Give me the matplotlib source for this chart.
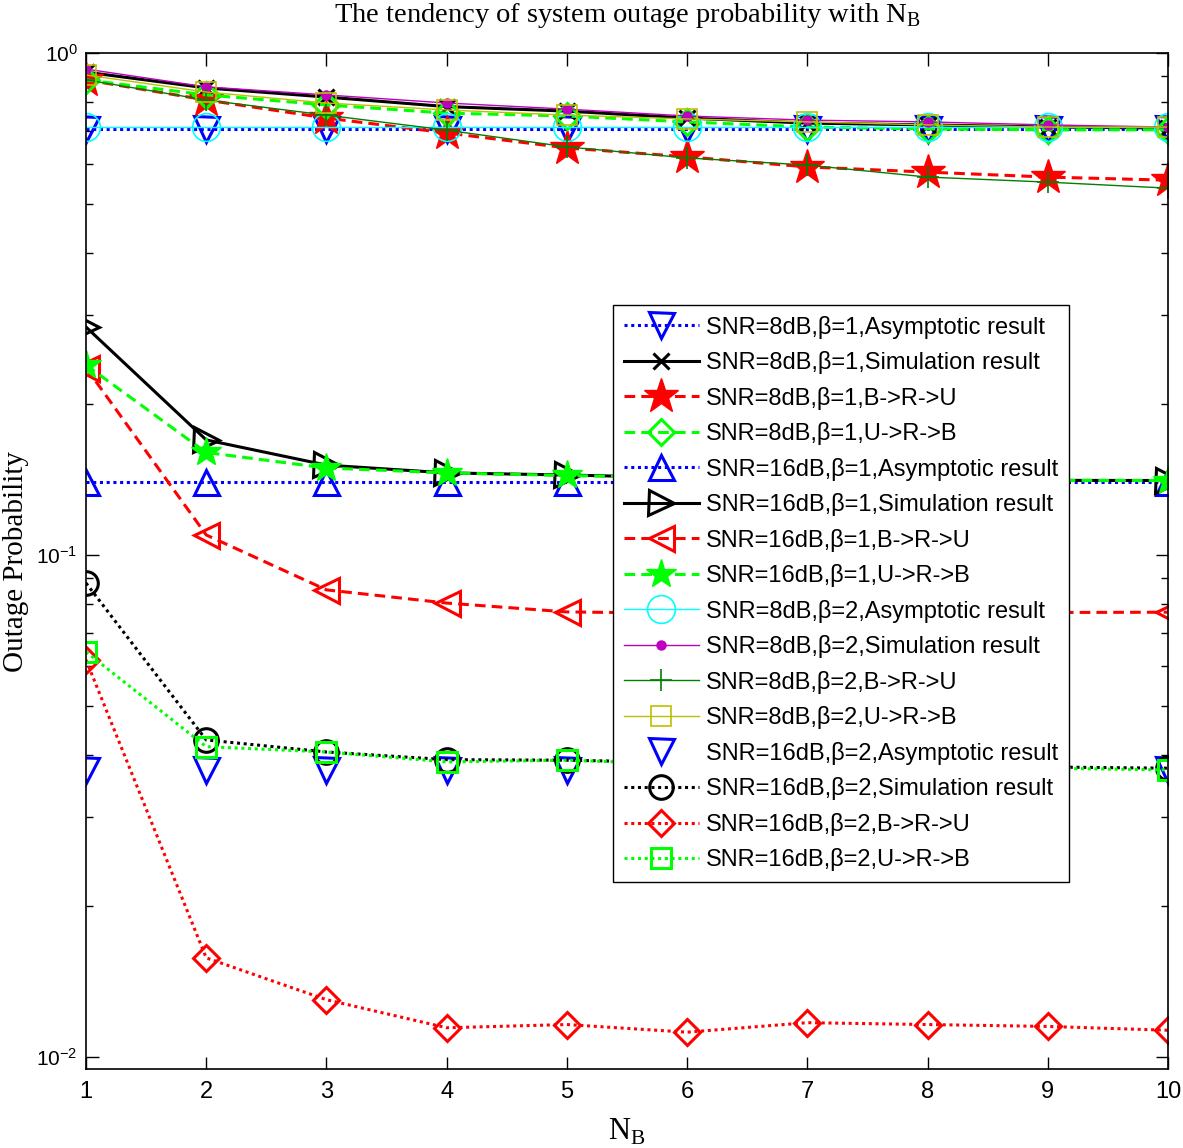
import numpy as np
import matplotlib
matplotlib.use("Agg")
import matplotlib.pyplot as plt

plt.rcParams['font.family'] = ['Liberation Sans', 'DejaVu Sans']
plt.rcParams['mathtext.fontset'] = 'custom'
plt.rcParams['mathtext.rm'] = 'Liberation Sans'
plt.rcParams['mathtext.it'] = 'Liberation Sans'

NB = [1, 2, 3, 4, 5, 6, 7, 8, 9, 10]

labels = [
    "SNR=8dB,\u03b2=1,Asymptotic result",
    "SNR=8dB,\u03b2=1,Simulation result",
    "SNR=8dB,\u03b2=1,B->R->U",
    "SNR=8dB,\u03b2=1,U->R->B",
    "SNR=16dB,\u03b2=1,Asymptotic result",
    "SNR=16dB,\u03b2=1,Simulation result",
    "SNR=16dB,\u03b2=1,B->R->U",
    "SNR=16dB,\u03b2=1,U->R->B",
    "SNR=8dB,\u03b2=2,Asymptotic result",
    "SNR=8dB,\u03b2=2,Simulation result",
    "SNR=8dB,\u03b2=2,B->R->U",
    "SNR=8dB,\u03b2=2,U->R->B",
    "SNR=16dB,\u03b2=2,Asymptotic result",
    "SNR=16dB,\u03b2=2,Simulation result",
    "SNR=16dB,\u03b2=2,B->R->U",
    "SNR=16dB,\u03b2=2,U->R->B",
]

snr8_b1_asym = [0.706, 0.706, 0.706, 0.706, 0.706, 0.706, 0.706, 0.706, 0.706, 0.706]
snr8_b1_sim  = [0.916, 0.852, 0.817, 0.782, 0.766, 0.742, 0.725, 0.719, 0.712, 0.709]
snr8_b1_bru  = [0.884, 0.806, 0.742, 0.693, 0.647, 0.621, 0.593, 0.579, 0.566, 0.558]
snr8_b1_urb  = [0.884, 0.825, 0.788, 0.759, 0.749, 0.729, 0.712, 0.706, 0.703, 0.703]
snr16_b1_asym = [0.1398] * 10
snr16_b1_sim  = [0.2845, 0.1695, 0.151, 0.1457, 0.1443, 0.1425, 0.1415, 0.141, 0.1408, 0.1407]
snr16_b1_bru  = [0.236, 0.1096, 0.0852, 0.0802, 0.0770, 0.0765, 0.0768, 0.0766, 0.0768, 0.0769]
snr16_b1_urb  = [0.239, 0.160, 0.149, 0.1457, 0.1440, 0.1425, 0.1415, 0.141, 0.1408, 0.1407]
snr8_b2_asym = [0.712] * 10
snr8_b2_sim  = [0.929, 0.856, 0.825, 0.795, 0.773, 0.749, 0.735, 0.729, 0.719, 0.712]
snr8_b2_bru  = [0.884, 0.806, 0.752, 0.702, 0.650, 0.618, 0.598, 0.566, 0.553, 0.538]
snr8_b2_urb  = [0.904, 0.836, 0.795, 0.770, 0.752, 0.739, 0.729, 0.719, 0.712, 0.712]
snr16_b2_asym = [0.0373] * 10
snr16_b2_sim  = [0.0879, 0.0428, 0.0405, 0.0391, 0.0390, 0.0386, 0.0383, 0.0380, 0.0378, 0.0376]
snr16_b2_bru  = [0.0618, 0.01575, 0.0130, 0.01143, 0.0116, 0.0112, 0.0117, 0.0116, 0.0115, 0.0113]
snr16_b2_urb  = [0.0641, 0.0415, 0.0405, 0.0387, 0.0390, 0.0383, 0.0380, 0.0378, 0.0376, 0.0373]

series = [snr8_b1_asym, snr8_b1_sim, snr8_b1_bru, snr8_b1_urb,
          snr16_b1_asym, snr16_b1_sim, snr16_b1_bru, snr16_b1_urb,
          snr8_b2_asym, snr8_b2_sim, snr8_b2_bru, snr8_b2_urb,
          snr16_b2_asym, snr16_b2_sim, snr16_b2_bru, snr16_b2_urb]

DOT = (0, (1.0, 1.2))
DASH = (0, (3.5, 2.0))
styles = [
    dict(color='#0000ff', ls=DOT, lw=2.2, marker='v', ms=18, mfc='none', mew=2.2),
    dict(color='#000000', ls='-', lw=2.2, marker='x', ms=11, mew=2.2),
    dict(color='#ff0000', ls=DASH, lw=2.2, marker='*', ms=26, mfc='#ff0000', mew=1),
    dict(color='#00ff00', ls=DASH, lw=2.2, marker='D', ms=13, mfc='none', mew=2.2),
    dict(color='#0000ff', ls=DOT, lw=2.2, marker='^', ms=18, mfc='none', mew=2.2),
    dict(color='#000000', ls='-', lw=2.2, marker='>', ms=18, mfc='none', mew=2.2),
    dict(color='#ff0000', ls=DASH, lw=2.2, marker='<', ms=18, mfc='none', mew=2.2),
    dict(color='#00ff00', ls=DASH, lw=2.2, marker='*', ms=22, mfc='#00ff00', mew=1),
    dict(color='#00ffff', ls='-', lw=1.0, marker='o', ms=20, mfc='none', mew=1.2),
    dict(color='#bf00bf', ls='-', lw=1.0, marker='.', ms=13),
    dict(color='#008000', ls='-', lw=1.0, marker='+', ms=16, mew=1.2),
    dict(color='#bfbf00', ls='-', lw=1.0, marker='s', ms=14, mfc='none', mew=1.2),
    dict(color='#0000ff', ls='none', lw=2.2, marker='v', ms=18, mfc='none', mew=2.2),
    dict(color='#000000', ls=DOT, lw=2.2, marker='o', ms=17, mfc='none', mew=2.2),
    dict(color='#ff0000', ls=DOT, lw=2.2, marker='D', ms=13, mfc='none', mew=2.2),
    dict(color='#00ff00', ls=DOT, lw=2.2, marker='s', ms=15, mfc='none', mew=2.2),
]

fig = plt.figure(figsize=(11.83, 11.48), dpi=100)
ax = fig.add_axes([86/1183, 1 - 1069/1148, (1168-86)/1183, (1069-53)/1148])

for y, lab, st in zip(series, labels, styles):
    ax.plot(NB, y, label=lab, linestyle=st.pop('ls'), **st)

ax.set_yscale('log')
ax.set_xlim(1, 10)
ax.set_ylim(0.00946, 1.0)
ax.set_xticks(NB)
ax.set_xticklabels([str(v) for v in NB])
ax.tick_params(which='both', direction='in', top=True, right=True)
ax.tick_params(axis='x', pad=9, labelsize=17)
ax.tick_params(axis='y', pad=6, labelsize=15)
ax.tick_params(which='major', length=9, width=1)
ax.tick_params(which='minor', length=5, width=1)
for s in ax.spines.values():
    s.set_linewidth(1.2)

ax.set_title("The tendency of system outage probability with N$_\\mathregular{B}$",
             family='Liberation Serif', fontsize=20.5, pad=22)
ax.set_xlabel("N$_\\mathregular{B}$", family='Liberation Serif', fontsize=22, labelpad=10)
ax.set_ylabel("Outage Probability", family='Liberation Serif', fontsize=21)
ax.yaxis.set_label_coords(-0.053, 0.5)

leg = ax.legend(loc='upper left', bbox_to_anchor=(0.487, 0.752), fontsize=17,
                frameon=True, fancybox=False, framealpha=1, edgecolor='black',
                handlelength=3.2, handletextpad=0.3, labelspacing=0.53,
                borderpad=0.45, borderaxespad=0)
leg.get_frame().set_linewidth(1.0)

fig.savefig("out.png", dpi=100)
